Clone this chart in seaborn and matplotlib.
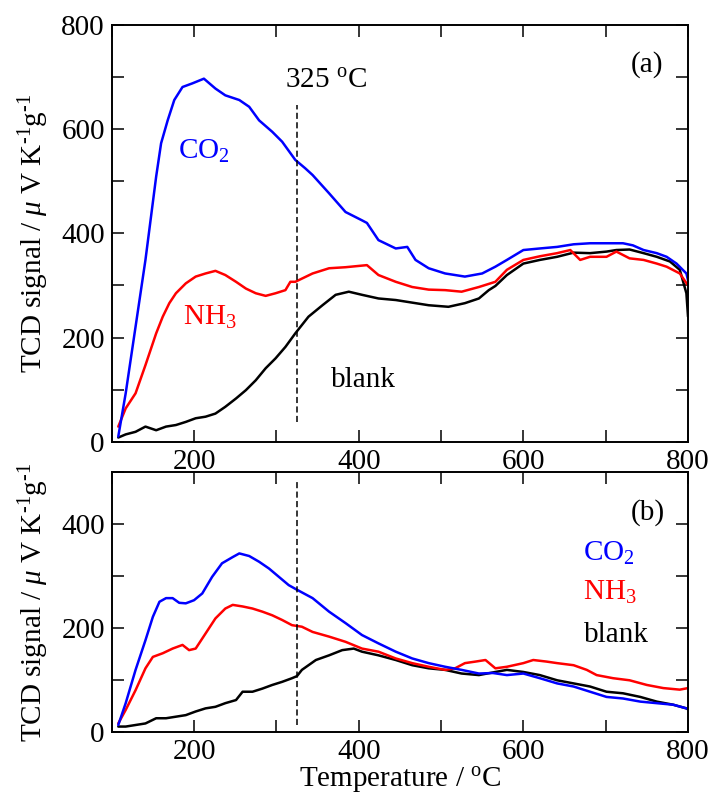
import numpy as np
import pandas as pd
import matplotlib
matplotlib.use("Agg")
import matplotlib.pyplot as plt
from matplotlib.ticker import MultipleLocator, FuncFormatter
import seaborn as sns

# ---- data (temperature in degC, signal in uV K-1 g-1) ----
# panel (a)
t_co2_a = [108, 117, 129, 141, 154, 160, 168, 176, 186, 198, 212, 226, 238, 255, 267, 279,
           295, 307, 323, 335, 344, 364, 384, 404, 410, 424, 445, 459, 469, 485, 505, 529,
           550, 566, 580, 600, 620, 641, 661, 681, 701, 721, 733, 746, 762, 774, 786, 798, 800]
v_co2_a = [10, 93, 221, 349, 509, 573, 617, 656, 681, 688, 697, 678, 665, 656, 643, 617,
           595, 576, 541, 525, 512, 477, 441, 425, 420, 387, 371, 374, 349, 333, 323, 317,
           323, 336, 349, 368, 371, 374, 379, 381, 381, 381, 377, 368, 362, 355, 342, 323, 310]

t_nh3_a = [108, 117, 129, 141, 154, 162, 170, 178, 190, 202, 214, 226, 238, 251, 263, 275,
           287, 299, 311, 317, 323, 344, 364, 384, 410, 424, 445, 465, 485, 505, 525, 546,
           566, 580, 600, 620, 641, 657, 669, 681, 701, 713, 729, 746, 762, 774, 790, 800]
v_nh3_a = [29, 64, 93, 147, 208, 240, 266, 285, 304, 317, 323, 328, 320, 307, 294, 285,
           280, 285, 291, 307, 307, 323, 333, 335, 339, 320, 307, 297, 292, 291, 288, 297,
           307, 330, 349, 356, 362, 368, 349, 355, 355, 365, 352, 349, 342, 336, 323, 300]

t_blank_a = [108, 117, 129, 141, 154, 166, 178, 190, 202, 214, 226, 238, 251, 263, 275, 287,
             299, 311, 323, 339, 356, 372, 388, 404, 424, 445, 465, 485, 509, 529, 546, 558,
             566, 580, 600, 620, 641, 661, 681, 701, 713, 729, 746, 762, 778, 790, 798, 800]
v_blank_a = [8, 14, 19, 29, 22, 29, 32, 38, 45, 48, 54, 67, 83, 99, 118, 141,
             160, 182, 208, 240, 262, 282, 288, 282, 275, 272, 267, 262, 259, 266, 275, 291,
             299, 320, 342, 349, 355, 363, 362, 365, 368, 369, 362, 355, 346, 330, 285, 240]

# panel (b)
t_co2_b = [108, 117, 129, 141, 150, 158, 166, 174, 182, 190, 200, 210, 222, 234, 247, 255,
           267, 279, 291, 303, 315, 324, 344, 364, 384, 404, 424, 445, 465, 485, 505, 525,
           546, 563, 580, 600, 620, 641, 661, 681, 701, 721, 742, 762, 782, 798, 800]
v_co2_b = [14, 56, 120, 177, 222, 251, 258, 258, 249, 248, 254, 267, 299, 325, 337, 344,
           339, 328, 315, 299, 283, 275, 258, 232, 210, 187, 171, 155, 142, 133, 126, 120,
           113, 114, 110, 113, 104, 94, 88, 78, 68, 65, 59, 56, 53, 46, 45]

t_nh3_b = [108, 117, 129, 141, 150, 162, 174, 186, 194, 202, 214, 226, 238, 247, 259, 271,
           283, 295, 307, 319, 331, 344, 364, 384, 404, 424, 445, 465, 485, 505, 517, 529,
           542, 554, 566, 580, 600, 612, 628, 641, 661, 677, 689, 709, 729, 750, 770, 790, 800]
v_nh3_b = [17, 43, 81, 123, 145, 152, 161, 168, 158, 161, 190, 219, 238, 245, 242, 238,
           232, 225, 216, 206, 203, 193, 184, 174, 161, 155, 142, 133, 126, 120, 123, 133,
           136, 139, 123, 126, 133, 139, 136, 133, 129, 120, 110, 104, 100, 91, 85, 82, 85]

t_blank_b = [108, 117, 129, 141, 154, 166, 178, 190, 202, 214, 226, 238, 251, 259, 271, 283,
             295, 307, 319, 325, 331, 348, 364, 380, 394, 404, 424, 445, 465, 485, 505, 525,
             546, 566, 580, 600, 620, 641, 661, 681, 701, 721, 742, 762, 782, 798, 800]
v_blank_b = [11, 11, 14, 17, 27, 27, 30, 33, 40, 46, 49, 56, 62, 78, 78, 84,
             91, 97, 104, 108, 120, 139, 148, 158, 161, 155, 148, 139, 129, 123, 120, 113,
             110, 116, 120, 116, 110, 100, 94, 88, 78, 75, 68, 59, 53, 46, 44]

# 325 degC marker (dashed line extent in each panel)
t_mark = 325
mark_a = [38, 646]
mark_b = [14, 482]

# ---- style ----
sns.set_style("ticks")
plt.rcParams["font.family"] = ["Liberation Serif", "DejaVu Serif"]
plt.rcParams["mathtext.fontset"] = "custom"
plt.rcParams["mathtext.rm"] = "Liberation Serif"
plt.rcParams["mathtext.it"] = "Liberation Serif:italic"
plt.rcParams["font.size"] = 21
for k in ("text.color", "axes.labelcolor", "xtick.color", "ytick.color", "axes.edgecolor"):
    plt.rcParams[k] = "black"

fig = plt.figure(figsize=(7.11, 7.97), dpi=100)
ax_a = fig.add_axes([0.1571, 0.4458, 0.8106, 0.5228])
ax_b = fig.add_axes([0.1571, 0.0812, 0.8106, 0.3262])

colors = {"CO2": "#0000ff", "NH3": "#ff0000", "blank": "#000000"}


def draw(ax, t, v, c):
    df = pd.DataFrame({"T": t, "S": v})
    sns.lineplot(data=df, x="T", y="S", ax=ax, color=c, lw=1.8,
                 sort=False, estimator=None, legend=False)


draw(ax_a, t_blank_a, v_blank_a, colors["blank"])
draw(ax_a, t_nh3_a, v_nh3_a, colors["NH3"])
draw(ax_a, t_co2_a, v_co2_a, colors["CO2"])
draw(ax_b, t_blank_b, v_blank_b, colors["blank"])
draw(ax_b, t_nh3_b, v_nh3_b, colors["NH3"])
draw(ax_b, t_co2_b, v_co2_b, colors["CO2"])

ax_a.plot([t_mark, t_mark], mark_a, color="black", lw=1.1, ls=(0, (4, 2.2)))
ax_b.plot([t_mark, t_mark], mark_b, color="black", lw=1.1, ls=(0, (4, 2.2)))

ylabel = "TCD signal / $\\mu$ V K$^{\u2010\\rm 1}$g$^{\u2010\\rm 1}$"
for ax, ymax in ((ax_a, 800), (ax_b, 500)):
    ax.set_xlim(100, 800)
    ax.set_ylim(0, ymax)
    ax.xaxis.set_major_locator(MultipleLocator(100))
    ax.yaxis.set_major_locator(MultipleLocator(100))
    fmt = FuncFormatter(lambda x, p: f"{int(round(x))}" if round(x) % 200 == 0 else "")
    ax.xaxis.set_major_formatter(fmt)
    ax.yaxis.set_major_formatter(fmt)
    ax.tick_params(direction="in", length=8.5, width=1.1, top=True, right=True,
                   labelsize=21, pad=5, colors="black")
    for s in ax.spines.values():
        s.set_visible(True)
        s.set_linewidth(1.4)
        s.set_color("black")
    ax.set_xlabel("")
    ax.set_ylabel(ylabel, fontsize=21, labelpad=7)

ax_b.set_xlabel(r"Temperature / $^{\rm o}$C", fontsize=21, labelpad=0)

# annotations panel (a)
ax_a.text(t_mark - 14, 679, r"325 $^{\rm o}$C", fontsize=21, va="baseline")
ax_a.text(730, 710, "(a)", fontsize=21, va="baseline")
ax_a.text(181, 543, r"CO$_2$", color=colors["CO2"], fontsize=21, va="baseline")
ax_a.text(186, 224, r"NH$_3$", color=colors["NH3"], fontsize=21, va="baseline")
ax_a.text(366, 105, "blank", color=colors["blank"], fontsize=21, va="baseline")

# annotations panel (b)
ax_b.text(730, 408, "(b)", fontsize=21, va="baseline")
ax_b.text(672, 330, r"CO$_2$", color=colors["CO2"], fontsize=21, va="baseline")
ax_b.text(673, 254, r"NH$_3$", color=colors["NH3"], fontsize=21, va="baseline")
ax_b.text(673, 174, "blank", color=colors["blank"], fontsize=21, va="baseline")

fig.savefig("out.png", dpi=100)
